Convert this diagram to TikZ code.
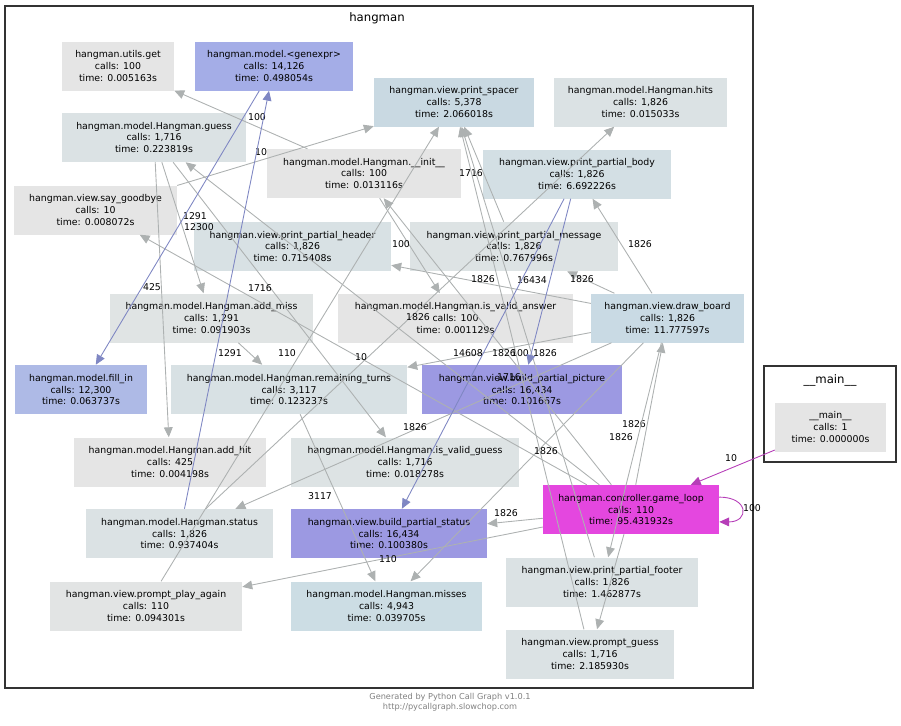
\documentclass[tikz,border=0pt]{standalone}
\usepackage{fontspec}
\setmainfont{DejaVu Sans}
\usepackage{tikz}
\usetikzlibrary{arrows.meta}
\usepackage{xcolor}
\definecolor{ndgray}{HTML}{E5E5E5}
\definecolor{ndgen}{HTML}{A4ADE7}
\definecolor{ndfill}{HTML}{AEBAE6}
\definecolor{ndpurp}{HTML}{9C99E2}
\definecolor{ndloop}{HTML}{E447DF}
\definecolor{ndsp}{HTML}{C9D9E2}
\definecolor{nddb}{HTML}{C9DAE4}
\definecolor{ndmis}{HTML}{CCDDE4}
\definecolor{ndbody}{HTML}{D3DFE4}
\definecolor{ndhdr}{HTML}{D8E1E4}
\definecolor{ndlt}{HTML}{DBE2E4}
\definecolor{ndmsg}{HTML}{DDE3E4}
\definecolor{ndmiss}{HTML}{E0E4E4}
\definecolor{ndpa}{HTML}{E2E4E4}
\definecolor{edgray}{HTML}{ADB1B1}
\definecolor{edblue}{HTML}{7F87C3}
\definecolor{edmag}{HTML}{B63EB8}
\definecolor{frm}{HTML}{333333}
\definecolor{foot}{HTML}{808080}

\begin{document}
\begin{tikzpicture}[
        x=0.03cm, y=-0.03cm,
        font=\fontsize{8}{10.2}\selectfont,
        nd/.style={rectangle, inner sep=0pt, minimum height=1.47cm,
                   align=center},
        ed/.style={draw=edgray, line width=0.75pt,
                   -{Triangle[length=8.5pt, width=7.5pt]}},
        edb/.style={ed, draw=edblue},
        edm/.style={ed, draw=edmag},
        lb/.style={inner sep=0pt},
        ttl/.style={font=\fontsize{10}{12}\selectfont},
      ]
      \useasboundingbox (0,0) rectangle (901,725);

      % Clusters
      \draw[frm, line width=2.5pt] (5,6) rectangle (753,688);
      \node[ttl] (thang) at (377,18) {hangman};
      \draw[frm, line width=2.5pt] (764,366) rectangle (896,462);
      \node[ttl] (tmain) at (830,380) {\_\_main\_\_};

      % Functions
      \node[nd, fill=ndgray, minimum width=3.36cm] (utils) at (118,66) {hangman.utils.get\\calls: 100\\time: 0.005163s};
      \node[nd, fill=ndgen, minimum width=4.74cm] (genexpr) at (274,66) {hangman.model.<genexpr>\\calls: 14,126\\time: 0.498054s};
      \node[nd, fill=ndsp, minimum width=4.80cm] (spacer) at (454,102) {hangman.view.print\_spacer\\calls: 5,378\\time: 2.066018s};
      \node[nd, fill=ndlt, minimum width=5.19cm] (hits) at (640.5,102) {hangman.model.Hangman.hits\\calls: 1,826\\time: 0.015033s};
      \node[nd, fill=ndlt, minimum width=5.52cm] (guess) at (154,137.5) {hangman.model.Hangman.guess\\calls: 1,716\\time: 0.223819s};
      \node[nd, fill=ndgray, minimum width=5.82cm] (init) at (364,173.5) {hangman.model.Hangman.\_\_init\_\_\\calls: 100\\time: 0.013116s};
      \node[nd, fill=ndbody, minimum width=5.64cm] (body) at (577,174) {hangman.view.print\_partial\_body\\calls: 1,826\\time: 6.692226s};
      \node[nd, fill=ndgray, minimum width=4.89cm] (goodbye) at (95.5,210) {hangman.view.say\_goodbye\\calls: 10\\time: 0.008072s};
      \node[nd, fill=ndhdr, minimum width=5.91cm] (header) at (292.5,246.5) {hangman.view.print\_partial\_header\\calls: 1,826\\time: 0.715408s};
      \node[nd, fill=ndmsg, minimum width=6.24cm] (message) at (514,246.5) {hangman.view.print\_partial\_message\\calls: 1,826\\time: 0.767996s};
      \node[nd, fill=ndmiss, minimum width=6.09cm] (addmiss) at (211.5,318) {hangman.model.Hangman.add\_miss\\calls: 1,291\\time: 0.091903s};
      \node[nd, fill=ndgray, minimum width=7.05cm] (validans) at (455.5,318) {hangman.model.Hangman.is\_valid\_answer\\calls: 100\\time: 0.001129s};
      \node[nd, fill=nddb, minimum width=4.59cm] (board) at (667.5,318) {hangman.view.draw\_board\\calls: 1,826\\time: 11.777597s};
      \node[nd, fill=ndfill, minimum width=3.96cm] (fillin) at (81,389.5) {hangman.model.fill\_in\\calls: 12,300\\time: 0.063737s};
      \node[nd, fill=ndhdr, minimum width=7.08cm] (remain) at (289,389.5) {hangman.model.Hangman.remaining\_turns\\calls: 3,117\\time: 0.123237s};
      \node[nd, fill=ndpurp, minimum width=6.00cm] (picture) at (522,389.5) {hangman.view.build\_partial\_picture\\calls: 16,434\\time: 0.101667s};
      \node[nd, fill=ndgray, minimum width=5.76cm] (addhit) at (170,462) {hangman.model.Hangman.add\_hit\\calls: 425\\time: 0.004198s};
      \node[nd, fill=ndmsg, minimum width=6.84cm] (validguess) at (405,462) {hangman.model.Hangman.is\_valid\_guess\\calls: 1,716\\time: 0.018278s};
      \node[nd, fill=ndlt, minimum width=5.61cm] (status) at (179.5,533.5) {hangman.model.Hangman.status\\calls: 1,826\\time: 0.937404s};
      \node[nd, fill=ndpurp, minimum width=5.88cm] (bstatus) at (389,533.5) {hangman.view.build\_partial\_status\\calls: 16,434\\time: 0.100380s};
      \node[nd, fill=ndloop, minimum width=5.28cm] (game) at (631,509.5) {hangman.controller.game\_loop\\calls: 110\\time: 95.431932s};
      \node[nd, fill=ndpa, minimum width=5.76cm] (again) at (146,606) {hangman.view.prompt\_play\_again\\calls: 110\\time: 0.094301s};
      \node[nd, fill=ndmis, minimum width=5.73cm] (misses) at (386.5,606) {hangman.model.Hangman.misses\\calls: 4,943\\time: 0.039705s};
      \node[nd, fill=ndlt, minimum width=5.76cm] (footer) at (602,582) {hangman.view.print\_partial\_footer\\calls: 1,826\\time: 1.462877s};
      \node[nd, fill=ndlt, minimum width=5.04cm] (pguess) at (590,654) {hangman.view.prompt\_guess\\calls: 1,716\\time: 2.185930s};
      \node[nd, fill=ndgray, minimum width=3.33cm] (main) at (830.5,427) {\_\_main\_\_\\calls: 1\\time: 0.000000s};

      % Calls
      \draw[ed] (init) -- (utils) node[lb] at (257,117) {100};
      \draw[ed] (goodbye) -- (spacer) node[lb] at (261,152) {10};
      \draw[ed] (again) -- (spacer) node[lb] at (287,353) {110};
      \draw[ed] (message) -- (spacer) node[lb] at (471,173) {1716};
      \draw[ed] (footer) -- (spacer) node[lb] at (545,353) {1826};
      \draw[ed] (pguess) -- (spacer) node[lb] at (509,377) {1716};
      \draw[ed] (guess) -- (addhit) node[lb] at (152,287) {425};
      \draw[ed] (guess) -- (addmiss) node[lb] at (195,216) {1291};
      \draw[ed] (guess) -- (validguess) node[lb] at (260,288) {1716};
      \draw[ed] (game) -- (guess);
      \draw[ed] (game) -- (init) node[lb] at (520,353) {100};
      \draw[ed] (init) -- (validans) node[lb] at (401,244) {100};
      \draw[ed] (status) -- (hits) node[lb] at (418,317) {1826};
      \draw[ed] (board) -- (status) node[lb] at (415,427) {1826};
      \draw[ed] (remain) -- (misses) node[lb] at (320,496) {3117};
      \draw[ed] (board) -- (misses) node[lb] at (546,451) {1826};
      \draw[ed] (game) -- (board) node[lb] at (634,424) {1826};
      \draw[ed] (board) -- (footer) node[lb] at (621,437) {1826};
      \draw[ed] (game) -- (pguess);
      \draw[ed] (game) -- (bstatus) node[lb] at (506,513) {1826};
      \draw[ed] (game) -- (again) node[lb] at (388,559) {110};
      \draw[ed] (board) -- (header) node[lb] at (483,279) {1826};
      \draw[ed] (board) -- (message) node[lb] at (582,279) {1826};
      \draw[ed] (board) -- (body) node[lb] at (640,244) {1826};
      \draw[ed] (board) -- (remain) node[lb] at (504,353) {1826};
      \draw[ed] (addmiss) -- (remain) node[lb] at (230,353) {1291};
      \draw[ed] (game) -- (goodbye) node[lb] at (361,357) {10};
      \draw[edb] (genexpr) -- (fillin) node[lb] at (199,227) {12300};
      \draw[edb] (status) -- (genexpr);
      \draw[edb] (body) -- (picture) node[lb] at (532,280) {16434};
      \draw[edb] (body) -- (bstatus) node[lb] at (468,353) {14608};
      \draw[edm] (main) -- (game) node[lb] at (731,458) {10};
      \draw[edm] (game.8) to[out=0, in=0, distance=0.9cm] (game.-8);
      \node[lb] (nloop) at (752,508) {100};

      % Footer
      \node[foot, font=\fontsize{7}{8.5}\selectfont, align=center] (credit) at (450,702)
        {Generated by Python Call Graph v1.0.1\\http://pycallgraph.slowchop.com};
      \end{tikzpicture}
\end{document}
